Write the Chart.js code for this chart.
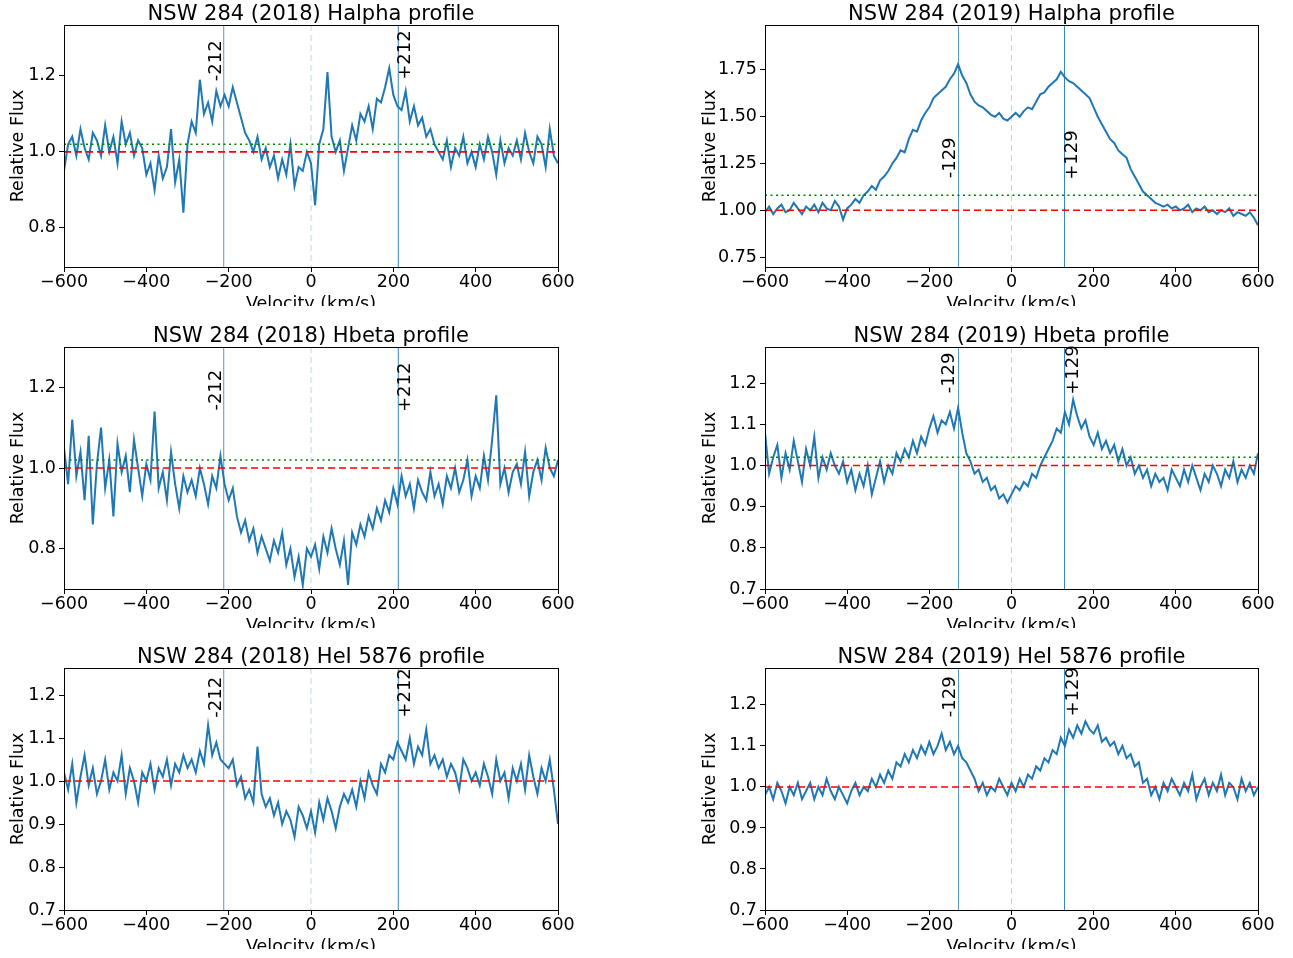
<!DOCTYPE html>
<html>
<head>
<meta charset="utf-8">
<script src="https://cdn.jsdelivr.net/npm/chart.js@4.4.0/dist/chart.umd.min.js"></script>
<style>
  body { margin: 0; background: #fff; width: 1293px; height: 958px; position: relative; overflow: hidden; }
  .panel { position: absolute; overflow: hidden; width: 590px; height: 306px; }
</style>
</head>
<body>
<script>
// velocity grid, km/s
const velocity = [];
for (let v = -600; v <= 600; v += 10) velocity.push(v);

const titles = [
  'NSW 284 (2018) Halpha profile', 'NSW 284 (2019) Halpha profile',
  'NSW 284 (2018) Hbeta profile', 'NSW 284 (2019) Hbeta profile',
  'NSW 284 (2018) HeI 5876 profile', 'NSW 284 (2019) HeI 5876 profile'
];

const ha2018 = [
  0.95,1.02,1.04,0.99,1.06,1.01,0.98,1.05,1.03,0.99,
  1.07,1.00,1.04,0.97,1.08,1.02,1.05,0.99,1.03,1.01,
  0.94,0.97,0.90,0.99,0.93,0.96,1.06,0.92,0.98,0.84,
  1.02,1.08,1.05,1.19,1.10,1.13,1.08,1.16,1.12,1.15,
  1.12,1.17,1.13,1.09,1.05,1.03,1.00,1.04,0.98,1.01,
  0.96,0.99,0.93,0.98,0.94,1.02,0.91,0.96,0.95,1.00,
  0.97,0.86,1.02,1.06,1.21,1.04,1.00,1.03,0.95,1.01,
  1.07,1.03,1.10,1.08,1.12,1.06,1.14,1.13,1.17,1.22,
  1.15,1.12,1.11,1.16,1.08,1.12,1.07,1.09,1.04,1.06,
  1.02,1.00,0.98,1.03,0.96,1.01,0.99,1.04,0.97,1.00,
  0.96,1.02,0.98,1.04,1.00,0.94,1.03,0.97,1.01,0.99,
  1.03,0.98,1.05,1.00,0.97,1.04,1.02,0.96,1.06,0.99,
  0.97
];
const ha2019 = [
  0.99,1.02,0.98,1.01,1.03,0.99,1.00,1.04,1.01,0.98,
  1.02,1.00,1.03,0.99,1.04,1.01,1.00,1.05,1.02,0.95,
  1.01,1.03,1.06,1.04,1.08,1.10,1.13,1.11,1.16,1.18,
  1.21,1.25,1.28,1.32,1.31,1.38,1.43,1.42,1.48,1.52,
  1.55,1.60,1.62,1.64,1.66,1.70,1.73,1.78,1.72,1.68,
  1.62,1.58,1.56,1.55,1.53,1.51,1.50,1.52,1.49,1.48,
  1.50,1.52,1.50,1.53,1.55,1.54,1.58,1.62,1.63,1.66,
  1.68,1.70,1.74,1.71,1.69,1.68,1.66,1.64,1.62,1.60,
  1.55,1.50,1.46,1.42,1.38,1.36,1.32,1.30,1.28,1.22,
  1.18,1.14,1.10,1.08,1.06,1.04,1.03,1.02,1.03,1.01,
  1.02,1.00,1.01,1.03,0.99,1.01,1.00,1.02,0.99,1.00,
  0.98,1.00,0.99,1.01,0.97,0.99,0.98,0.97,0.99,0.96,
  0.92
];
const hb2018 = [
  1.05,0.96,1.12,0.98,1.04,0.92,1.08,0.86,1.01,1.10,
  0.95,1.02,0.88,1.06,0.99,1.03,0.94,1.07,1.00,0.93,
  1.01,0.97,1.14,0.95,0.99,0.92,1.04,0.96,0.90,0.98,
  0.94,0.97,0.93,1.00,0.96,0.91,0.98,0.95,1.03,0.96,
  0.92,0.95,0.88,0.84,0.87,0.82,0.85,0.79,0.83,0.80,
  0.77,0.82,0.79,0.84,0.76,0.80,0.73,0.78,0.71,0.80,
  0.78,0.81,0.75,0.83,0.79,0.85,0.80,0.76,0.82,0.71,
  0.84,0.81,0.86,0.83,0.88,0.85,0.90,0.87,0.92,0.89,
  0.95,0.91,0.98,0.93,0.96,0.90,0.97,0.94,0.92,0.99,
  0.93,0.96,0.91,0.98,0.95,1.00,0.94,0.97,1.02,0.93,
  0.98,0.95,1.03,0.97,1.07,1.18,0.96,1.00,0.94,0.99,
  1.01,0.96,1.04,0.93,0.99,1.02,0.97,1.05,1.00,0.98,
  1.02
];
const hb2019 = [
  1.08,0.98,1.02,1.05,0.97,1.03,0.99,1.06,1.01,0.96,
  1.04,1.00,1.07,0.97,1.02,0.99,1.03,1.00,0.98,1.01,
  0.96,0.99,0.94,0.98,0.95,1.00,0.93,0.97,1.01,0.96,
  1.00,0.98,1.03,1.01,1.04,1.02,1.06,1.03,1.07,1.05,
  1.09,1.12,1.08,1.11,1.10,1.13,1.09,1.14,1.08,1.03,
  1.01,0.98,0.99,0.96,0.97,0.94,0.95,0.92,0.93,0.91,
  0.93,0.95,0.94,0.96,0.95,0.98,0.97,1.00,1.02,1.04,
  1.06,1.09,1.08,1.13,1.10,1.16,1.12,1.09,1.11,1.07,
  1.05,1.08,1.04,1.06,1.03,1.05,1.01,1.04,1.00,1.02,
  0.98,1.00,0.97,0.99,0.95,0.98,0.96,0.97,0.94,0.99,
  0.97,0.95,0.99,0.96,1.00,0.97,0.94,0.98,0.96,1.00,
  0.98,0.95,0.99,0.97,1.01,0.96,0.99,0.97,1.00,0.98,
  1.03
];
const he2018 = [
  1.02,0.98,1.04,0.95,1.01,1.06,0.99,1.03,0.97,1.00,
  1.05,0.98,1.02,1.00,1.06,0.97,1.03,1.00,0.95,1.02,
  1.00,1.04,0.98,1.03,1.01,1.05,0.99,1.04,1.02,1.06,
  1.03,1.05,1.02,1.07,1.04,1.13,1.06,1.09,1.05,1.04,
  1.03,1.05,0.99,1.01,0.96,0.98,0.95,1.08,0.97,0.94,
  0.96,0.92,0.95,0.90,0.93,0.91,0.87,0.94,0.92,0.89,
  0.93,0.88,0.95,0.91,0.96,0.93,0.89,0.94,0.97,0.95,
  0.98,0.94,1.00,0.96,1.02,0.99,0.97,1.04,1.02,1.06,
  1.05,1.09,1.07,1.05,1.10,1.04,1.08,1.06,1.12,1.04,
  1.06,1.03,1.05,1.01,1.04,1.02,0.98,1.05,1.03,1.00,
  1.02,0.99,1.04,1.01,0.97,1.05,1.00,1.02,0.96,1.03,
  1.00,1.04,0.98,1.06,1.01,0.97,1.03,1.00,1.05,0.98,
  0.90
];
const he2019 = [
  0.98,1.00,0.97,1.01,0.99,0.96,1.00,0.98,1.01,0.97,
  0.99,1.01,0.97,1.00,0.98,1.02,0.99,0.97,1.00,0.98,
  0.96,0.99,1.01,0.98,1.00,0.99,1.02,1.00,1.03,1.01,
  1.04,1.02,1.06,1.05,1.08,1.06,1.09,1.07,1.10,1.08,
  1.11,1.08,1.10,1.13,1.09,1.11,1.08,1.10,1.07,1.06,
  1.04,1.02,0.99,1.01,0.98,1.00,0.99,1.02,1.00,0.98,
  1.01,0.99,1.02,1.00,1.03,1.02,1.05,1.04,1.07,1.06,
  1.09,1.08,1.12,1.10,1.14,1.12,1.15,1.13,1.16,1.14,
  1.13,1.15,1.11,1.12,1.10,1.11,1.08,1.10,1.07,1.08,
  1.05,1.06,1.01,1.02,0.98,1.00,0.97,1.01,0.99,1.02,
  1.00,0.98,1.01,0.99,1.03,0.97,1.00,1.02,0.98,1.01,
  0.99,1.03,0.98,1.01,1.00,0.97,1.02,0.99,1.01,0.98,
  1.00
];
const series = [ha2018, ha2019, hb2018, hb2019, he2018, he2019];

const markVel = [212, 129, 212, 129, 212, 129];
const greenLevel = [1.02, 1.08, 1.02, 1.02, null, null];
const xTicks = [-600, -400, -200, 0, 200, 400, 600];
const yTicks = [
  [0.8, 1.0, 1.2],
  [0.75, 1.00, 1.25, 1.50, 1.75],
  [0.8, 1.0, 1.2],
  [0.7, 0.8, 0.9, 1.0, 1.1, 1.2],
  [0.7, 0.8, 0.9, 1.0, 1.1, 1.2],
  [0.7, 0.8, 0.9, 1.0, 1.1, 1.2]
];
const yRange = [[0.697, 1.334], [0.697, 1.99], [0.70, 1.30], [0.70, 1.288], [0.70, 1.263], [0.70, 1.29]];
const yDecimals = [1, 2, 1, 1, 1, 1];
// where the rotated velocity labels sit: [x offset from line, y centre left, y centre right]
const labelPos = [[18, 1.24, 1.255], [20, 1.28, 1.295], [18, 1.193, 1.20], [22, 1.225, 1.232], [18, 1.195, 1.205], [21, 1.22, 1.232]];

const FONT = "'DejaVu Sans', sans-serif";

const overlay = {
  id: 'overlay',
  afterDatasetsDraw(chart, args, o) {
    const { ctx, chartArea: a, scales: { x, y } } = chart;
    ctx.save();
    ctx.beginPath(); ctx.rect(a.left, a.top, a.right - a.left, a.bottom - a.top); ctx.clip();
    const vline = (v, color, dash) => {
      ctx.beginPath(); ctx.strokeStyle = color; ctx.lineWidth = 1; ctx.setLineDash(dash);
      ctx.moveTo(x.getPixelForValue(v), a.top); ctx.lineTo(x.getPixelForValue(v), a.bottom); ctx.stroke();
    };
    const hline = (lv, color, dash, w) => {
      ctx.beginPath(); ctx.strokeStyle = color; ctx.lineWidth = w; ctx.setLineDash(dash);
      ctx.moveTo(a.left, y.getPixelForValue(lv)); ctx.lineTo(a.right, y.getPixelForValue(lv)); ctx.stroke();
    };
    vline(-o.v, 'rgba(31,119,180,0.75)', []);
    vline(o.v, 'rgba(31,119,180,0.9)', []);
    vline(0, 'rgba(31,119,180,0.3)', [6, 4]);
    hline(1.0, '#ff0000', [7, 4], 1.6);
    if (o.green !== null) hline(o.green, '#008000', [2, 3.5], 1.6);
    ctx.restore();

    // full frame
    ctx.save();
    ctx.strokeStyle = '#000'; ctx.lineWidth = 1;
    ctx.strokeRect(Math.round(a.left) + 0.5, Math.round(a.top) + 0.5, Math.round(a.right - a.left), Math.round(a.bottom - a.top));
    ctx.restore();

    ctx.save();
    ctx.fillStyle = '#000'; ctx.font = '18px ' + FONT;
    ctx.textAlign = 'center'; ctx.textBaseline = 'middle';
    [[-o.v - o.lab[0], o.lab[1], '-' + o.v], [o.v + o.lab[0], o.lab[2], '+' + o.v]].forEach(([lx, ly, t]) => {
      ctx.save();
      ctx.translate(x.getPixelForValue(lx), y.getPixelForValue(ly));
      ctx.rotate(-Math.PI / 2);
      ctx.fillText(t, 0, 0);
      ctx.restore();
    });
    ctx.font = '21px ' + FONT; ctx.textBaseline = 'alphabetic';
    ctx.fillText(o.title, (a.left + a.right) / 2, a.top - 5);
    ctx.restore();
  }
};

const rowTop = [0, 322, 643];
for (let i = 0; i < 6; i++) {
  const col = i % 2, row = Math.floor(i / 2);
  const div = document.createElement('div');
  div.className = 'panel';
  div.style.left = (col ? 700 : 0) + 'px';
  div.style.top = rowTop[row] + 'px';
  const cv = document.createElement('canvas');
  cv.width = 590; cv.height = 315;
  div.appendChild(cv);
  document.body.appendChild(div);

  new Chart(cv, {
    type: 'line',
    data: {
      datasets: [{
        data: velocity.map((v, k) => ({ x: v, y: series[i][k] })),
        borderColor: '#1f77b4', borderWidth: 2, pointRadius: 0, tension: 0
      }]
    },
    plugins: [overlay],
    options: {
      responsive: false, animation: false, devicePixelRatio: 1,
      layout: { padding: { top: 25, right: 32, left: col ? 0 : 8, bottom: 0 } },
      plugins: {
        legend: { display: false }, tooltip: { enabled: false },
        overlay: { v: markVel[i], green: greenLevel[i], title: titles[i], lab: labelPos[i] }
      },
      scales: {
        x: {
          type: 'linear', min: -600, max: 600,
          afterBuildTicks: s => { s.ticks = xTicks.map(v => ({ value: v })); },
          afterFit: s => { s.height = 48; },
          ticks: { color: '#000', font: { family: FONT, size: 17.5 }, padding: 0, maxRotation: 0,
                   callback: v => (v < 0 ? '\u2212' + Math.abs(v) : '' + v) },
          grid: { drawOnChartArea: false, color: '#000', tickLength: 5 },
          border: { color: '#000', width: 1 },
          title: { display: true, text: 'Velocity (km/s)', color: '#000', font: { family: FONT, size: 17.5 }, padding: 0 }
        },
        y: {
          min: yRange[i][0], max: yRange[i][1],
          afterBuildTicks: s => { s.ticks = yTicks[i].map(v => ({ value: v })); },
          afterFit: s => { s.width = col ? 65 : 56; },
          ticks: { color: '#000', font: { family: FONT, size: 17.5 }, padding: 3,
                   callback: v => v.toFixed(yDecimals[i]) },
          grid: { drawOnChartArea: false, color: '#000', tickLength: 5 },
          border: { color: '#000', width: 1 },
          title: { display: true, text: 'Relative Flux', color: '#000', font: { family: FONT, size: 17.5 }, padding: 0 }
        }
      }
    }
  });
}
</script>
</body>
</html>
